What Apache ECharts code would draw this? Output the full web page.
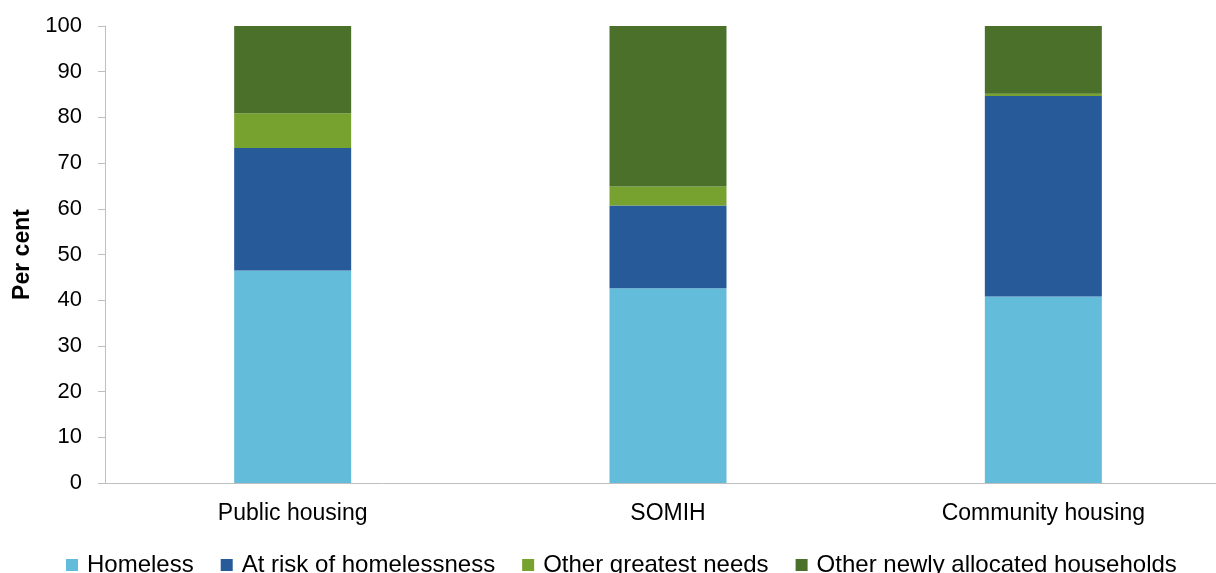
<!DOCTYPE html>
<html>
<head>
<meta charset="utf-8">
<script src="https://cdn.jsdelivr.net/npm/echarts@6/dist/echarts.min.js"></script>
<style>
  html, body { margin: 0; padding: 0; background: #fff; overflow: hidden; }
  #chart { width: 1216px; height: 573px; }
</style>
</head>
<body>
<div id="chart"></div>
<script>
// Housing types on the category axis
const categories = ['Public housing', 'SOMIH', 'Community housing'];

// Share of new allocations by need category (per cent)
const homeless = [46.5, 42.6, 40.8];
const atRisk = [26.8, 18.1, 43.9];
const otherGreatest = [7.6, 4.2, 0.5];
const otherNewly = [19.1, 35.1, 14.8];

const yTicks = { min: 0, max: 100, interval: 10 };

const seriesDefs = [
  { name: 'Homeless', data: homeless, color: '#64bcdb' },
  { name: 'At risk of homelessness', data: atRisk, color: '#265a99' },
  { name: 'Other greatest needs', data: otherGreatest, color: '#78a22f' },
  { name: 'Other newly allocated households', data: otherNewly, color: '#4a7029' }
];

const font = 'Liberation Sans, Arial, sans-serif';
const chart = echarts.init(document.getElementById('chart'));

chart.setOption({
  animation: false,
  textStyle: { fontFamily: font },
  grid: {
    left: 105, right: -15, top: 26, bottom: 90,
    containLabel: false,
    outerBoundsMode: 'none'
  },
  legend: {
    left: 61,
    top: 548,
    itemWidth: 12,
    itemHeight: 12,
    itemGap: 27,
    icon: 'rect',
    textStyle: { fontSize: 24, color: '#000', fontFamily: font, padding: [0, 0, 0, 4] },
    data: seriesDefs.map(s => s.name)
  },
  xAxis: {
    type: 'category',
    data: categories,
    axisLine: { lineStyle: { color: '#bfbfbf', width: 1 } },
    axisTick: { show: false },
    axisLabel: { fontSize: 23, color: '#000', margin: 19, fontFamily: font }
  },
  yAxis: {
    type: 'value',
    min: yTicks.min,
    max: yTicks.max,
    interval: yTicks.interval,
    name: 'Per cent',
    nameLocation: 'middle',
    nameRotate: 90,
    nameGap: 67,
    nameTextStyle: { fontSize: 23, fontWeight: 'bold', color: '#000', fontFamily: font },
    axisLine: { show: true, lineStyle: { color: '#bfbfbf', width: 1 } },
    axisTick: { show: true, length: 7, lineStyle: { color: '#bfbfbf' } },
    splitLine: { show: false },
    axisLabel: { fontSize: 22, color: '#000', margin: 23, fontFamily: font }
  },
  series: seriesDefs.map(s => ({
    name: s.name,
    type: 'bar',
    stack: 'total',
    data: s.data,
    barWidth: 117,
    itemStyle: { color: s.color }
  }))
});
</script>
</body>
</html>
